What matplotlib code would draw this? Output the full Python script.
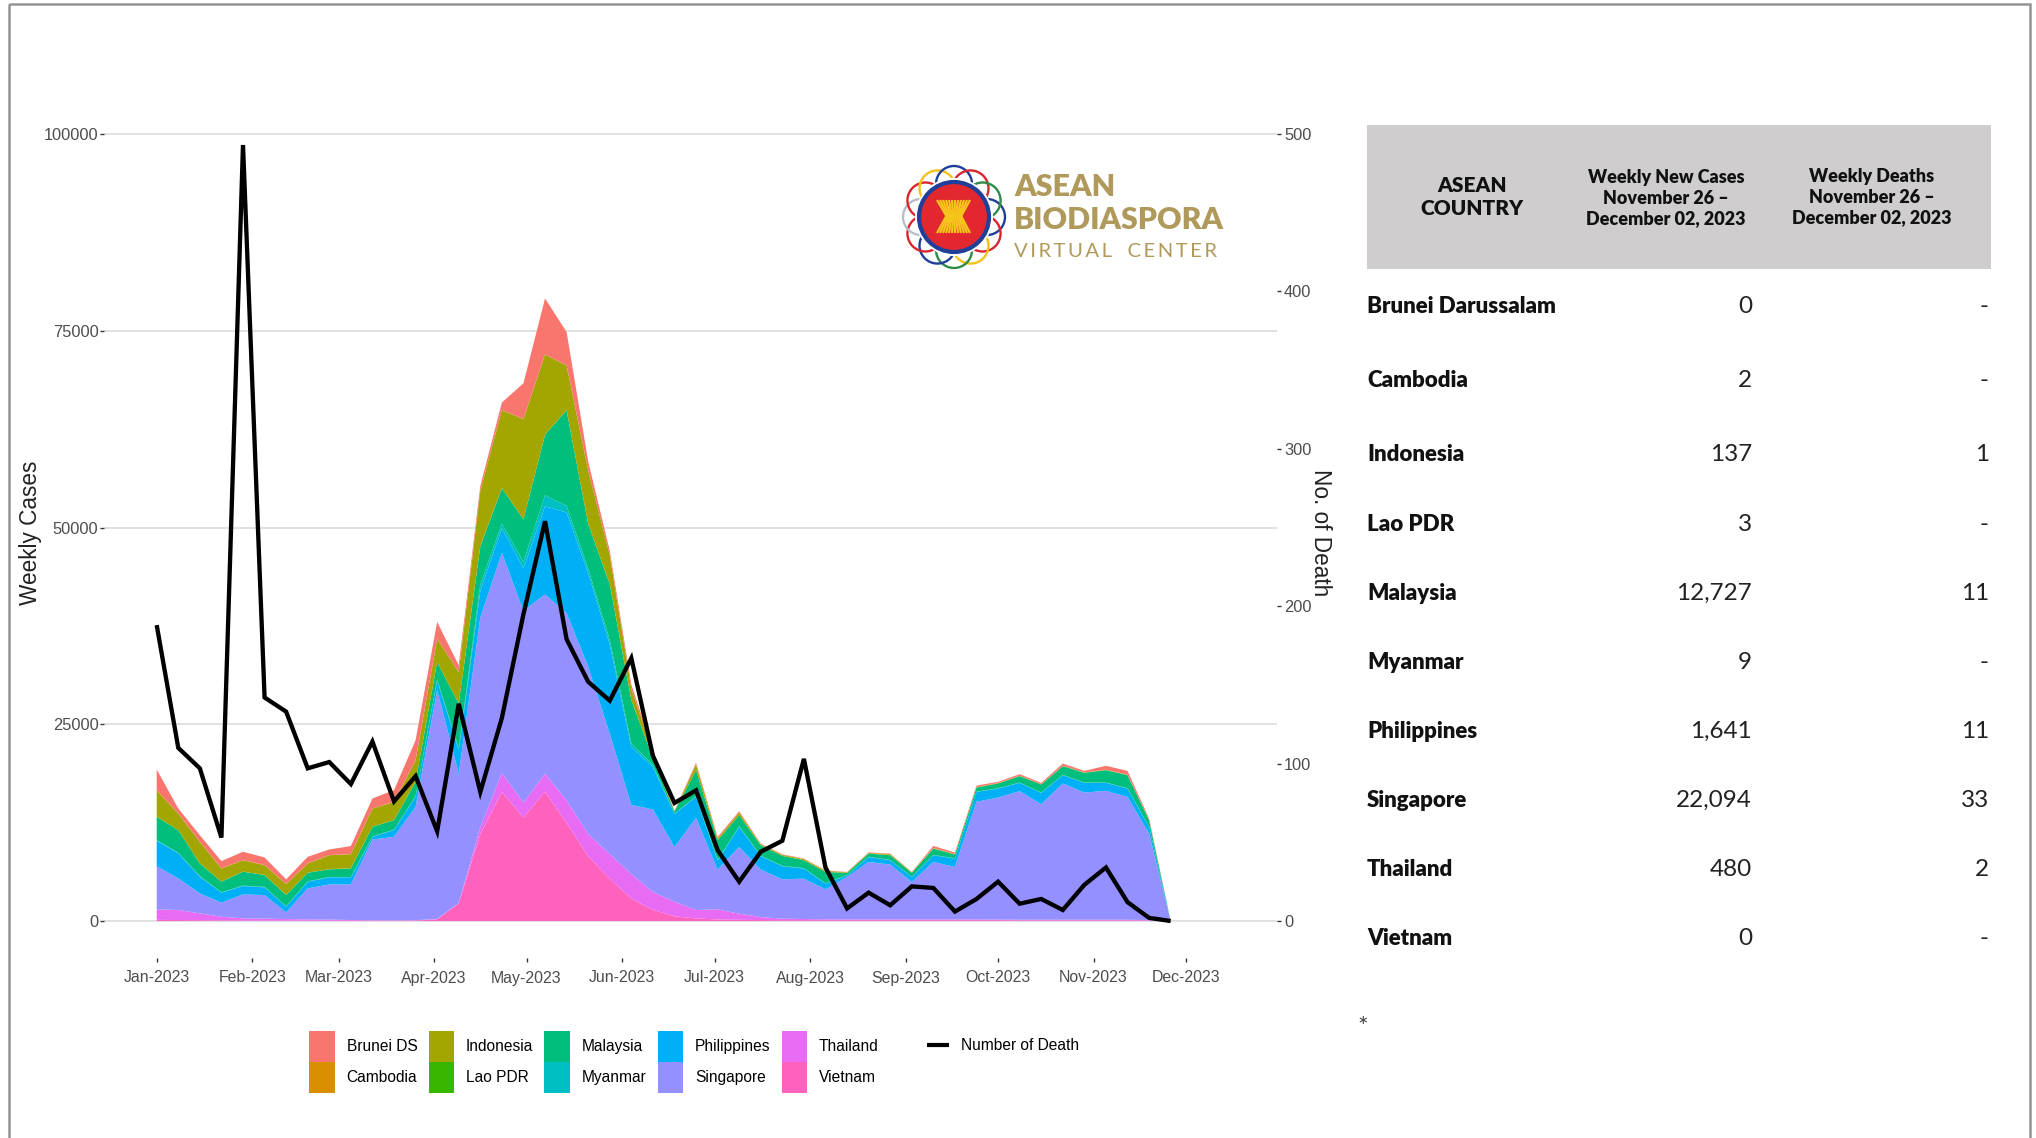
import matplotlib
matplotlib.use("Agg")
import matplotlib.dates as mdates
import matplotlib.pyplot as plt
import numpy as np
import pandas as pd
from matplotlib.lines import Line2D
from matplotlib.patches import Circle, Patch, Rectangle

W, H = 2036, 1138

weeks = pd.date_range("2023-01-01", periods=48, freq="7D")

vietnam = [150, 120, 100, 80, 60, 50, 40, 40, 30, 30, 30, 30, 50, 200, 2240, 11000, 16400, 13150, 16440, 12470, 8220, 5390, 2835, 1420,
           600, 320, 200, 150, 120, 100, 100, 100, 100, 100, 100, 100, 100, 100, 100, 100, 80, 80, 80, 80, 80, 80, 40, 0]
thailand = [1330, 1280, 870, 470, 280, 250, 210, 170, 140, 100, 70, 70, 50, 60, 40, 900, 2400, 1880, 2270, 2840, 2840, 3110, 3115, 2270,
            1850, 1080, 1280, 780, 380, 200, 150, 120, 100, 100, 100, 100, 100, 100, 100, 80, 80, 80, 80, 80, 80, 80, 80, 0]
singapore = [5500, 4010, 2540, 1780, 3040, 3000, 850, 3940, 4480, 4520, 10260, 10600, 14400, 29040, 16460, 26660, 27980, 24370, 22790, 23790, 21240, 15300, 8790, 10485,
             6950, 11700, 5050, 8470, 6030, 5000, 5135, 3810, 5400, 7300, 6970, 4760, 7300, 6670, 14940, 15510, 16340, 14680, 17310, 16160, 16380, 15610, 10980, 0]
philippines = [3210, 3180, 2120, 1270, 1060, 970, 720, 840, 890, 890, 340, 850, 1280, 1280, 2960, 3400, 3120, 5400, 11200, 12800, 11900, 11350, 7360, 5385,
               4200, 2670, 1170, 2560, 1700, 1650, 1275, 720, 200, 640, 550, 640, 850, 1060, 1260, 1140, 1050, 1440, 1060, 1230, 1010, 1060, 860, 0]
myanmar = [100, 100, 70, 60, 60, 60, 50, 50, 50, 50, 50, 50, 70, 100, 300, 800, 600, 850, 1400, 850, 560, 570, 450, 280,
           50, 100, 80, 80, 60, 60, 60, 50, 40, 40, 40, 40, 40, 40, 40, 40, 40, 40, 40, 40, 40, 40, 30, 0]
malaysia = [2950, 2860, 1620, 1330, 1760, 1510, 1430, 1090, 970, 1090, 1220, 1200, 1830, 2220, 5620, 4840, 4500, 5380, 7700, 12150, 5700, 7080, 5520, 860,
            250, 3290, 2480, 1400, 1330, 1260, 1000, 1430, 260, 380, 590, 460, 810, 470, 520, 600, 810, 1020, 1100, 1240, 1570, 1660, 810, 0]
lao = [20] * 47 + [0]
indonesia = [3340, 2070, 2710, 1650, 1440, 1230, 1360, 1150, 1780, 1780, 2290, 2300, 2710, 2930, 3980, 7060, 9880, 12720, 10160, 5660, 6770, 3660, 1370, 810,
             10, 700, 200, 320, 100, 110, 120, 130, 50, 60, 110, 50, 40, 40, 20, 20, 20, 20, 20, 20, 20, 30, 20, 0]
cambodia = [20] * 47 + [0]
brunei = [2630, 640, 830, 930, 1060, 970, 590, 840, 710, 1020, 1270, 1480, 2540, 2130, 850, 580, 960, 4530, 7100, 4240, 1130, 560, 570, 280,
          50, 200, 180, 150, 80, 60, 50, 40, 40, 70, 60, 40, 260, 180, 190, 150, 200, 150, 280, 190, 500, 480, 160, 0]
deaths = [188, 110, 97, 53, 493, 142, 133, 97, 101, 87, 114, 76, 92, 57, 138, 82, 129, 195, 254, 179, 152, 140, 167, 105,
          75, 83, 45, 25, 44, 51, 103, 34, 8, 18, 10, 22, 21, 6, 14, 25, 11, 14, 7, 23, 34, 12, 2, 0]

legend_labels = ["Brunei DS", "Cambodia", "Indonesia", "Lao PDR", "Malaysia", "Myanmar", "Philippines", "Singapore", "Thailand", "Vietnam"]
hue = ["#F8766D", "#D89000", "#A3A500", "#39B600", "#00BF7D", "#00BFC4", "#00B0F6", "#9590FF", "#E76BF3", "#FF62BC"]

case_ticks = [0, 25000, 50000, 75000, 100000]
death_ticks = [0, 100, 200, 300, 400, 500]

countries = ["Brunei Darussalam", "Cambodia", "Indonesia", "Lao PDR", "Malaysia", "Myanmar", "Philippines", "Singapore", "Thailand", "Vietnam"]
new_cases = ["0", "2", "137", "3", "12,727", "9", "1,641", "22,094", "480", "0"]
new_deaths = ["-", "-", "1", "-", "11", "-", "11", "33", "2", "-"]
row_y = [306, 380, 454, 524, 593, 662, 731, 800, 869, 938]

ARIAL = "Liberation Sans"
GOTHIC = "Lato"
GOLD = "#B09A5B"


def panel(fig, left, top, right, bottom):
    return fig.add_axes([left / W, 1 - bottom / H, (right - left) / W, (bottom - top) / H])


def draw_logo(bg):
    ring = ["#1F3F99", "#D9262E", "#F2C21A", "#2E8B4A", "#1F3F99", "#D9262E", "#B8BEC8", "#D9262E", "#F2C21A", "#1F3F99", "#D9262E", "#2E8B4A"]
    for i, c in enumerate(ring):
        a = 2 * np.pi * i / len(ring)
        bg.add_patch(Circle((954 + 33 * np.cos(a), 217 + 33 * np.sin(a)), 18, fill=False, ec=c, lw=1.7, zorder=3))
    bg.add_patch(Circle((954, 217), 39, fc="white", ec="none", zorder=4))
    bg.add_patch(Circle((954, 217), 35, fc="#E2272F", ec="#1F3F99", lw=3, zorder=5))
    # rice stalks
    for dx in np.arange(-17, 17.5, 3):
        bg.plot([954 + dx, 954 + dx * 0.45, 954 + dx], [200, 216, 233], color="#F6C51B", lw=1.6, zorder=6, solid_capstyle="butt")
    bg.text(1014, 187, "ASEAN", fontsize=22, fontweight="heavy", family="Lato", color=GOLD, va="center", ha="left", zorder=6)
    bg.text(1014, 220, "BIODIASPORA", fontsize=21.8, fontweight="heavy", family="Lato", color=GOLD, va="center", ha="left", zorder=6)
    bg.text(1014, 251, "\u2009".join("VIRTUAL") + "   " + "\u2009".join("CENTER"), fontsize=14.6, family=["Lato", "DejaVu Sans"], color=GOLD, va="center", ha="left", zorder=6)


def main():
    fig = plt.figure(figsize=(W / 100, H / 100), dpi=100, facecolor="white")

    bg = fig.add_axes([0, 0, 1, 1])
    bg.set_xlim(0, W)
    bg.set_ylim(H, 0)
    bg.axis("off")
    bg.add_patch(Rectangle((9.5, 4), 2021, 1200, fill=False, ec="#949494", lw=1.8))

    ax = panel(fig, 104, 97, 1277, 958)
    ax.patch.set_alpha(0)
    stack = [vietnam, thailand, singapore, philippines, myanmar, malaysia, lao, indonesia, cambodia, brunei]
    ax.stackplot(weeks, stack, colors=hue[::-1], linewidth=0, zorder=2)
    ax.set_xlim(pd.Timestamp("2023-01-01") - pd.Timedelta(days=17.1), pd.Timestamp("2023-01-01") + pd.Timedelta(days=363.5))
    ax.set_ylim(-4700, 104700)
    ax.set_yticks(case_ticks)
    ax.set_yticklabels([str(v) for v in case_ticks], family=ARIAL, fontsize=11.8, color="#4D4D4D")
    ax.xaxis.set_major_locator(mdates.MonthLocator())
    ax.xaxis.set_major_formatter(mdates.DateFormatter("%b-%Y"))
    ax.tick_params(axis="x", length=3, width=1, color="#333333", pad=6, labelsize=11.4, labelcolor="#4D4D4D")
    ax.tick_params(axis="y", length=3, width=1, color="#333333", pad=1)
    for t in ax.get_xticklabels():
        t.set_family(ARIAL)
    ax.grid(True, axis="y", color="#DCDCDC", linewidth=1.2, zorder=1)
    ax.set_axisbelow(True)
    ax.spines[["top", "right", "left", "bottom"]].set_visible(False)

    ax2 = ax.twinx()
    ax2.plot(weeks, deaths, color="black", linewidth=3.1, solid_joinstyle="miter", solid_capstyle="butt", zorder=5)
    ax2.set_ylim(-23.5, 523.5)
    ax2.set_yticks(death_ticks)
    ax2.set_yticklabels([str(v) for v in death_ticks], family=ARIAL, fontsize=11.8, color="#4D4D4D")
    ax2.tick_params(axis="y", length=3, width=1, color="#333333", pad=2)
    ax2.spines[["top", "right", "left", "bottom"]].set_visible(False)

    bg.text(31, 533, "Weekly Cases", rotation=90, family=ARIAL, fontsize=16.3, color="#222222", ha="center", va="center")
    bg.text(1321, 533, "No. of Death", rotation=270, family=ARIAL, fontsize=16.3, color="#222222", ha="center", va="center")

    handles = [Patch(fc=c, ec="none", label=l) for c, l in zip(hue, legend_labels)]
    fig.legend(handles=handles, ncol=5, frameon=False, loc="upper left", bbox_to_anchor=(303 / W, 1 - 1024.5 / H),
               prop={"family": ARIAL, "size": 11.2}, handlelength=1.65, handleheight=2.7, handletextpad=0.75,
               columnspacing=0.72, labelspacing=0.02, borderaxespad=0, borderpad=0.4)
    death_key = Line2D([0], [0], color="black", linewidth=3, label="Number of Death", solid_capstyle="butt")
    fig.legend(handles=[death_key], frameon=False, loc="upper left", bbox_to_anchor=(921 / W, 1 - 1032 / H),
               prop={"family": ARIAL, "size": 11.2}, handlelength=1.4, handletextpad=0.75, borderaxespad=0, borderpad=0.4)

    draw_logo(bg)

    # table on the right
    bg.add_patch(Rectangle((1367, 125), 624, 144, fc="#CFCDCE", ec="none"))
    bg.text(1472, 197, "ASEAN\nCOUNTRY", family=GOTHIC, fontweight="heavy", fontsize=15, ha="center", va="center", linespacing=1.3, color="#111111")
    bg.text(1666, 198, "Weekly New Cases\nNovember 26 \u2013\nDecember 02, 2023", family=GOTHIC, fontweight="heavy", fontsize=13, ha="center", va="center", linespacing=1.25, color="#111111")
    bg.text(1872, 197, "Weekly Deaths\nNovember 26 \u2013\nDecember 02, 2023", family=GOTHIC, fontweight="heavy", fontsize=13, ha="center", va="center", linespacing=1.25, color="#111111")
    for y, name, case, death in zip(row_y, countries, new_cases, new_deaths):
        bg.text(1367, y, name, family=GOTHIC, fontweight="heavy", fontsize=16, ha="left", va="center", color="#111111")
        bg.text(1752, y, case, family=GOTHIC, fontsize=17.5, ha="right", va="center", color="#222222")
        bg.text(1989, y, death, family=GOTHIC, fontsize=17.5, ha="right", va="center", color="#222222")
    bg.text(1363, 1027, "*", family=GOTHIC, fontsize=18, ha="center", va="center", color="#444444")

    fig.savefig("out.png", dpi=100)


if __name__ == "__main__":
    main()
